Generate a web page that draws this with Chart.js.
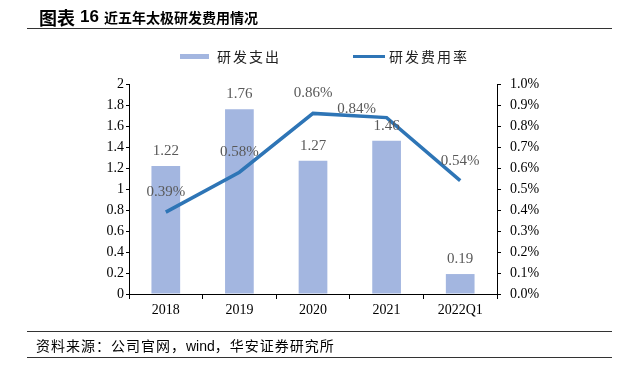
<!DOCTYPE html>
<html>
<head>
<meta charset="utf-8">
<script src="https://cdn.jsdelivr.net/npm/chart.js@4/dist/chart.umd.min.js"></script>
<style>
  body { margin: 0; background: #fff; }
  #wrap { position: relative; width: 638px; height: 376px; overflow: hidden; }
  #chart { position: absolute; left: 0; top: 0; }
  .abs { position: absolute; white-space: nowrap; color: #000; }
  .rule { position: absolute; left: 27px; width: 585px; height: 0; border-top: 1.5px solid #333; }
</style>
</head>
<body>
<div id="wrap">
  <canvas id="chart" width="638" height="376"></canvas>
  <div class="abs" style="left:39px; top:5px; font: bold 18px 'Noto Sans CJK SC'; line-height:24px;">图表</div>
  <div class="abs" style="left:80px; top:5px; font: bold 17px 'Liberation Sans'; line-height:24px;">16</div>
  <div class="abs" style="left:104px; top:7px; font: bold 14px 'Noto Sans CJK SC'; line-height:20px;">近五年太极研发费用情况</div>
  <div class="rule" style="top:28px;"></div>
  <div class="abs" style="left:36px; top:336px; font: 14px 'Noto Sans CJK SC'; line-height:18px; letter-spacing:1px;">资料来源：公司官网，<span style="font-family:'Liberation Sans'; letter-spacing:0">wind</span>，华安证券研究所</div>
  <div class="rule" style="top:331px;"></div>
  <div class="rule" style="top:357px;"></div>
</div>
<script>
const categories = ['2018', '2019', '2020', '2021', '2022Q1'];
const rdSpend = [1.22, 1.76, 1.27, 1.46, 0.19];
const rdRatio = [0.39, 0.58, 0.86, 0.84, 0.54];

const barColor = '#A3B6E0';
const lineColor = '#2E75B6';
const serif = 'Liberation Serif';

// value labels above bars and line points
const valueLabels = {
  id: 'valueLabels',
  afterDatasetsDraw(chart) {
    const ctx = chart.ctx;
    ctx.save();
    ctx.font = '15px ' + serif;
    ctx.fillStyle = '#595959';
    ctx.textAlign = 'center';
    ctx.textBaseline = 'middle';
    chart.getDatasetMeta(1).data.forEach((el, i) => {
      ctx.fillText(rdSpend[i].toFixed(2), el.x, el.y - 15);
    });
    // 2021 label sits to the left of its point
    const shift = { 3: [-30, -9] };
    chart.getDatasetMeta(0).data.forEach((el, i) => {
      const s = shift[i] || [0, -20];
      ctx.fillText(rdRatio[i].toFixed(2) + '%', el.x + s[0], el.y + s[1]);
    });
    ctx.restore();
  },
  afterDraw(chart) {
    const ctx = chart.ctx;
    const ds = chart.data.datasets;
    ctx.save();
    ctx.font = '14px "Noto Sans CJK SC"';
    ctx.textBaseline = 'middle';
    ctx.letterSpacing = '2px';
    // bar item
    ctx.fillStyle = barColor;
    ctx.fillRect(180, 54, 29, 5);
    ctx.fillStyle = '#222';
    ctx.fillText(ds[1].label, 217, 56.5);
    // line item
    ctx.strokeStyle = lineColor;
    ctx.lineWidth = 3;
    ctx.beginPath();
    ctx.moveTo(353, 56.5);
    ctx.lineTo(385, 56.5);
    ctx.stroke();
    ctx.fillText(ds[0].label, 389, 56.5);
    ctx.restore();
  }
};

const tickFont = { family: serif, size: 14 };

new Chart(document.getElementById('chart'), {
  type: 'bar',
  data: {
    labels: categories,
    datasets: [
      {
        type: 'line',
        label: '研发费用率',
        data: rdRatio,
        yAxisID: 'y1',
        borderColor: lineColor,
        backgroundColor: lineColor,
        borderWidth: 3.5,
        pointRadius: 0,
        tension: 0,
        order: 0
      },
      {
        type: 'bar',
        label: '研发支出',
        data: rdSpend,
        yAxisID: 'y',
        backgroundColor: barColor,
        categoryPercentage: 1,
        barPercentage: 0.39,
        order: 1
      }
    ]
  },
  options: {
    responsive: false,
    animation: false,
    layout: { padding: { top: 84, left: 0, right: 0, bottom: 0 } },
    plugins: {
      legend: { display: false },
      tooltip: { enabled: false },
      title: { display: false }
    },
    scales: {
      x: {
        offset: true,
        grid: { display: true, drawOnChartArea: false, drawTicks: true, tickLength: 5, color: '#000', offset: true },
        border: { display: true, color: '#000', width: 1 },
        ticks: { color: '#000', font: tickFont, padding: 3, maxRotation: 0 },
        afterFit(s) { s.height = 82; }
      },
      y: {
        position: 'left',
        min: 0,
        max: 2,
        ticks: {
          stepSize: 0.2,
          color: '#000',
          font: tickFont,
          padding: 2,
          callback: v => String(Number(v.toFixed(1)))
        },
        grid: { display: true, drawOnChartArea: false, drawTicks: true, tickLength: 3, color: '#000' },
        border: { display: true, color: '#000', width: 1 },
        afterFit(s) { s.width = 129; }
      },
      y1: {
        position: 'right',
        min: 0,
        max: 1,
        ticks: {
          stepSize: 0.1,
          color: '#000',
          font: tickFont,
          padding: 9,
          callback: v => v.toFixed(1) + '%'
        },
        grid: { display: true, drawOnChartArea: false, drawTicks: true, tickLength: 4, color: '#000' },
        border: { display: true, color: '#000', width: 1 },
        afterFit(s) { s.width = 141; }
      }
    }
  },
  plugins: [valueLabels]
});
</script>
</body>
</html>
